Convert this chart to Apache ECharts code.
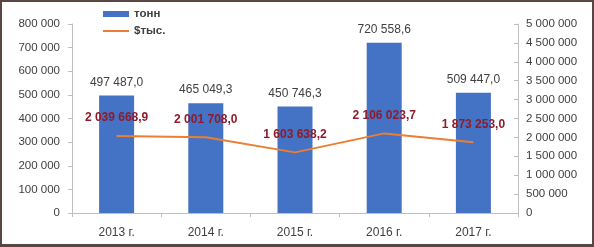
<!DOCTYPE html>
<html><head><meta charset="utf-8">
<script src="https://cdn.jsdelivr.net/npm/echarts@6/dist/echarts.min.js"></script>
<style>
html,body{margin:0;padding:0;background:#fff;}
#wrap{position:relative;width:594px;height:247px;}
#chart{position:absolute;left:0;top:0;width:594px;height:247px;}
#frame{position:absolute;left:0;top:0;width:594px;height:247px;box-sizing:border-box;border:2px solid #5a4545;border-bottom-width:3px;pointer-events:none;}
</style></head>
<body><div id="wrap"><div id="chart"></div><div id="frame"></div></div>
<script>
const categories = ['2013 г.', '2014 г.', '2015 г.', '2016 г.', '2017 г.'];
const tonnes = [497487.0, 465049.3, 450746.3, 720558.6, 509447.0];
const thousandsUSD = [2039668.9, 2001708.0, 1603638.2, 2106023.7, 1873253.0];
const seriesNames = ['тонн', '$тыс.'];

function fmt(v, dec) {
  const neg = v < 0; v = Math.abs(v);
  let s = dec ? v.toFixed(dec) : String(Math.round(v));
  let [ip, fp] = s.split('.');
  ip = ip.replace(/\B(?=(\d{3})+(?!\d))/g, ' ');
  return (neg ? '-' : '') + ip + (fp !== undefined ? ',' + fp : '');
}

const FONT = 'Liberation Sans';
const chart = echarts.init(document.getElementById('chart'), null, {renderer: 'canvas'});
chart.setOption({
  animation: false,
  backgroundColor: '#fff',
  textStyle: {fontFamily: FONT},
  grid: {left: 72, right: 76, top: 24, bottom: 34},
  legend: {
    orient: 'vertical', left: 97, top: 3, itemGap: 5,
    itemWidth: 26, itemHeight: 6,
    textStyle: {fontFamily: FONT, fontSize: 11.5, color: '#404040', fontWeight: 'bold'},
    data: [{name: seriesNames[0], icon: 'rect'}, {name: seriesNames[1]}]
  },
  xAxis: {
    type: 'category', data: categories,
    axisLine: {lineStyle: {color: '#bfbfbf'}},
    axisTick: {show: true, length: 4, lineStyle: {color: '#bfbfbf'}},
    axisLabel: {color: '#404040', fontSize: 12, margin: 14, fontFamily: FONT}
  },
  yAxis: [{
    type: 'value', min: 0, max: 800000, interval: 100000,
    splitLine: {show: false},
    axisLine: {show: true, lineStyle: {color: '#bfbfbf'}},
    axisTick: {show: true, length: 4, lineStyle: {color: '#bfbfbf'}},
    axisLabel: {color: '#404040', fontSize: 11.5, margin: 12, fontFamily: FONT, formatter: v => fmt(v)}
  }, {
    type: 'value', min: 0, max: 5000000, interval: 500000,
    splitLine: {show: false},
    axisLine: {show: true, lineStyle: {color: '#bfbfbf'}},
    axisTick: {show: true, inside: true, length: 4, lineStyle: {color: '#bfbfbf'}},
    axisLabel: {color: '#404040', fontSize: 11.5, margin: 8, fontFamily: FONT, formatter: v => fmt(v)}
  }],
  series: [{
    name: seriesNames[0], type: 'bar', data: tonnes, barWidth: 35,
    itemStyle: {color: '#4472c4'},
    label: {show: true, position: 'top', distance: 7, color: '#404040', fontSize: 12, fontFamily: FONT,
      formatter: p => fmt(p.value, 1)}
  }, {
    name: seriesNames[1], type: 'line', yAxisIndex: 1, data: thousandsUSD,
    symbol: 'circle', symbolSize: 2, showSymbol: true,
    lineStyle: {color: '#ed7d31', width: 2}, itemStyle: {color: 'rgba(0,0,0,0)'},
    label: {show: true, position: 'top', distance: 11, color: '#8e1b2b', fontSize: 12, fontWeight: 'bold', fontFamily: FONT,
      formatter: p => fmt(p.value, 1)},
    z: 3
  }]
});
</script></body></html>
